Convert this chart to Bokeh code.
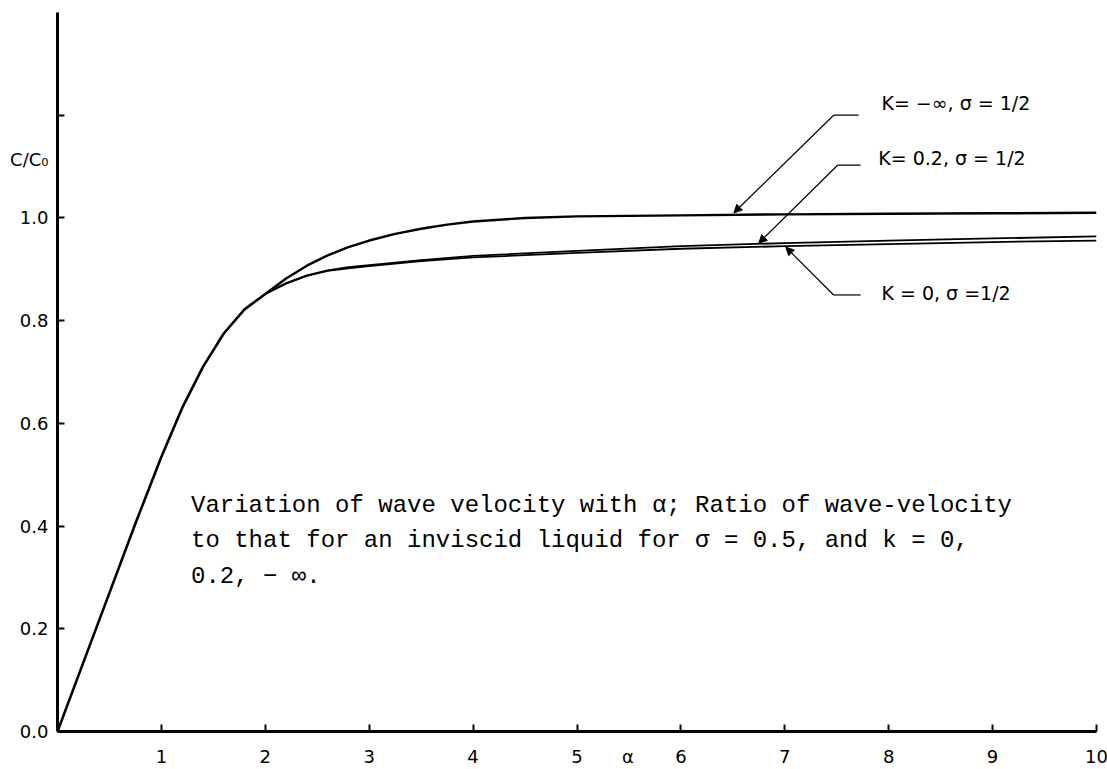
from bokeh.plotting import figure
from bokeh.models import Range1d, FixedTicker, Label, Arrow, NormalHead, PrintfTickFormatter
from bokeh.embed import file_html
from bokeh.resources import INLINE

# common rising part (alpha, c/c0)
alpha_common = [0, 0.25, 0.5, 0.75, 1.0, 1.2, 1.4, 1.6, 1.8, 2.0]
ratio_common = [0, 0.135, 0.27, 0.405, 0.535, 0.63, 0.71, 0.775, 0.822, 0.852]

# K = -inf, sigma = 1/2
alpha_kinf = [2.0, 2.2, 2.4, 2.6, 2.8, 3.0, 3.25, 3.5, 3.75, 4.0, 4.5, 5, 6, 7, 8, 9, 10]
ratio_kinf = [0.852, 0.882, 0.907, 0.927, 0.943, 0.956, 0.969, 0.979, 0.987, 0.993, 1.0,
              1.003, 1.005, 1.007, 1.008, 1.009, 1.01]

# K = 0.2, sigma = 1/2
alpha_k02 = [2.0, 2.2, 2.4, 2.6, 2.8, 3.0, 3.5, 4.0, 5, 6, 7, 8, 9, 10]
ratio_k02 = [0.852, 0.873, 0.888, 0.898, 0.904, 0.908, 0.918, 0.926, 0.936, 0.945, 0.951,
             0.956, 0.96, 0.964]

# K = 0, sigma = 1/2
alpha_k0 = [2.0, 2.2, 2.4, 2.6, 2.8, 3.0, 3.5, 4.0, 5, 6, 7, 8, 9, 10]
ratio_k0 = [0.852, 0.872, 0.887, 0.897, 0.902, 0.906, 0.916, 0.923, 0.932, 0.94, 0.945,
            0.949, 0.953, 0.956]

x_ticks = [1, 2, 3, 4, 5, 6, 7, 8, 9, 10]
x_title_pos = 5.49
x_title = "\u03b1"
y_ticks = [0, 0.2, 0.4, 0.6, 0.8, 1.0]
y_tick_marks = [0, 0.2, 0.4, 0.6, 0.8, 1.0, 1.2]
y_title_pos = 1.113
y_title = "C/C\u2080"

curve_labels = ["K= \u2212\u221e, \u03c3 = 1/2", "K= 0.2, \u03c3 = 1/2", "K = 0, \u03c3 =1/2"]
label_pos = [(7.93, 1.223), (7.90, 1.117), (7.93, 0.854)]
leader_knee = [(7.47, 1.200), (7.51, 1.103), (7.47, 0.850)]
leader_end_x = [7.71, 7.73, 7.73]
leader_tip = [(6.51, 1.010), (6.75, 0.951), (7.01, 0.943)]

caption_lines = [
    "Variation of wave velocity with \u03b1; Ratio of wave-velocity",
    "to that for an inviscid liquid for \u03c3 = 0.5, and k = 0,",
    "0.2, \u2212 \u221e.",
]
caption_x = 1.285
caption_y = [0.441, 0.371, 0.301]

p = figure(width=1107, height=769, x_range=Range1d(0, 10), y_range=Range1d(0, 1.4),
           output_backend="svg", toolbar_location=None,
           min_border_left=57, min_border_right=11, min_border_top=12, min_border_bottom=36)
p.outline_line_color = None
p.grid.visible = False
p.background_fill_color = "white"

for ax in (p.xaxis[0], p.yaxis[0]):
    ax.axis_line_width = 3
    ax.axis_line_color = "black"
    ax.major_tick_line_color = None
    ax.major_tick_in = 0
    ax.major_tick_out = 0
    ax.minor_tick_line_color = "black"
    ax.minor_tick_line_width = 2
    ax.minor_tick_in = 7
    ax.minor_tick_out = 0
    ax.major_label_text_font = "DejaVu Sans"
    ax.major_label_text_font_size = "18px"
    ax.major_label_text_color = "black"

p.xaxis.ticker = FixedTicker(ticks=x_ticks + [x_title_pos], minor_ticks=x_ticks)
p.xaxis.formatter = PrintfTickFormatter(format="%d")
p.xaxis.major_label_overrides = {x_title_pos: x_title}
p.xaxis.major_label_standoff = 14
p.yaxis.ticker = FixedTicker(ticks=y_ticks + [y_title_pos], minor_ticks=y_tick_marks)
p.yaxis.formatter = PrintfTickFormatter(format="%.1f")
p.yaxis.major_label_overrides = {y_title_pos: y_title}
p.yaxis.major_label_standoff = 9

p.line(alpha_common, ratio_common, line_color="black", line_width=2.6, line_join="round")
p.line(alpha_kinf, ratio_kinf, line_color="black", line_width=2.4, line_join="round")
p.line(alpha_k02, ratio_k02, line_color="black", line_width=1.8, line_join="round")
p.line(alpha_k0, ratio_k0, line_color="black", line_width=1.8, line_join="round")

for txt, (lx, ly), (kx, ky), ex, (tx, ty) in zip(curve_labels, label_pos, leader_knee, leader_end_x, leader_tip):
    p.segment(x0=[kx], y0=[ky], x1=[ex], y1=[ky], line_color="black", line_width=1.2)
    p.add_layout(Arrow(end=NormalHead(size=8, fill_color="black", line_color="black"),
                       x_start=kx, y_start=ky, x_end=tx, y_end=ty,
                       line_color="black", line_width=1.2))
    p.add_layout(Label(x=lx, y=ly, text=txt, text_font="DejaVu Sans", text_font_size="19px",
                       text_baseline="middle", text_align="left", text_color="black"))

for line, cy in zip(caption_lines, caption_y):
    p.add_layout(Label(x=caption_x, y=cy, text=line, text_font="Liberation Mono",
                       text_font_size="24px", text_baseline="middle", text_align="left",
                       text_color="black"))

open("out.html", "w").write(file_html(p, INLINE))
